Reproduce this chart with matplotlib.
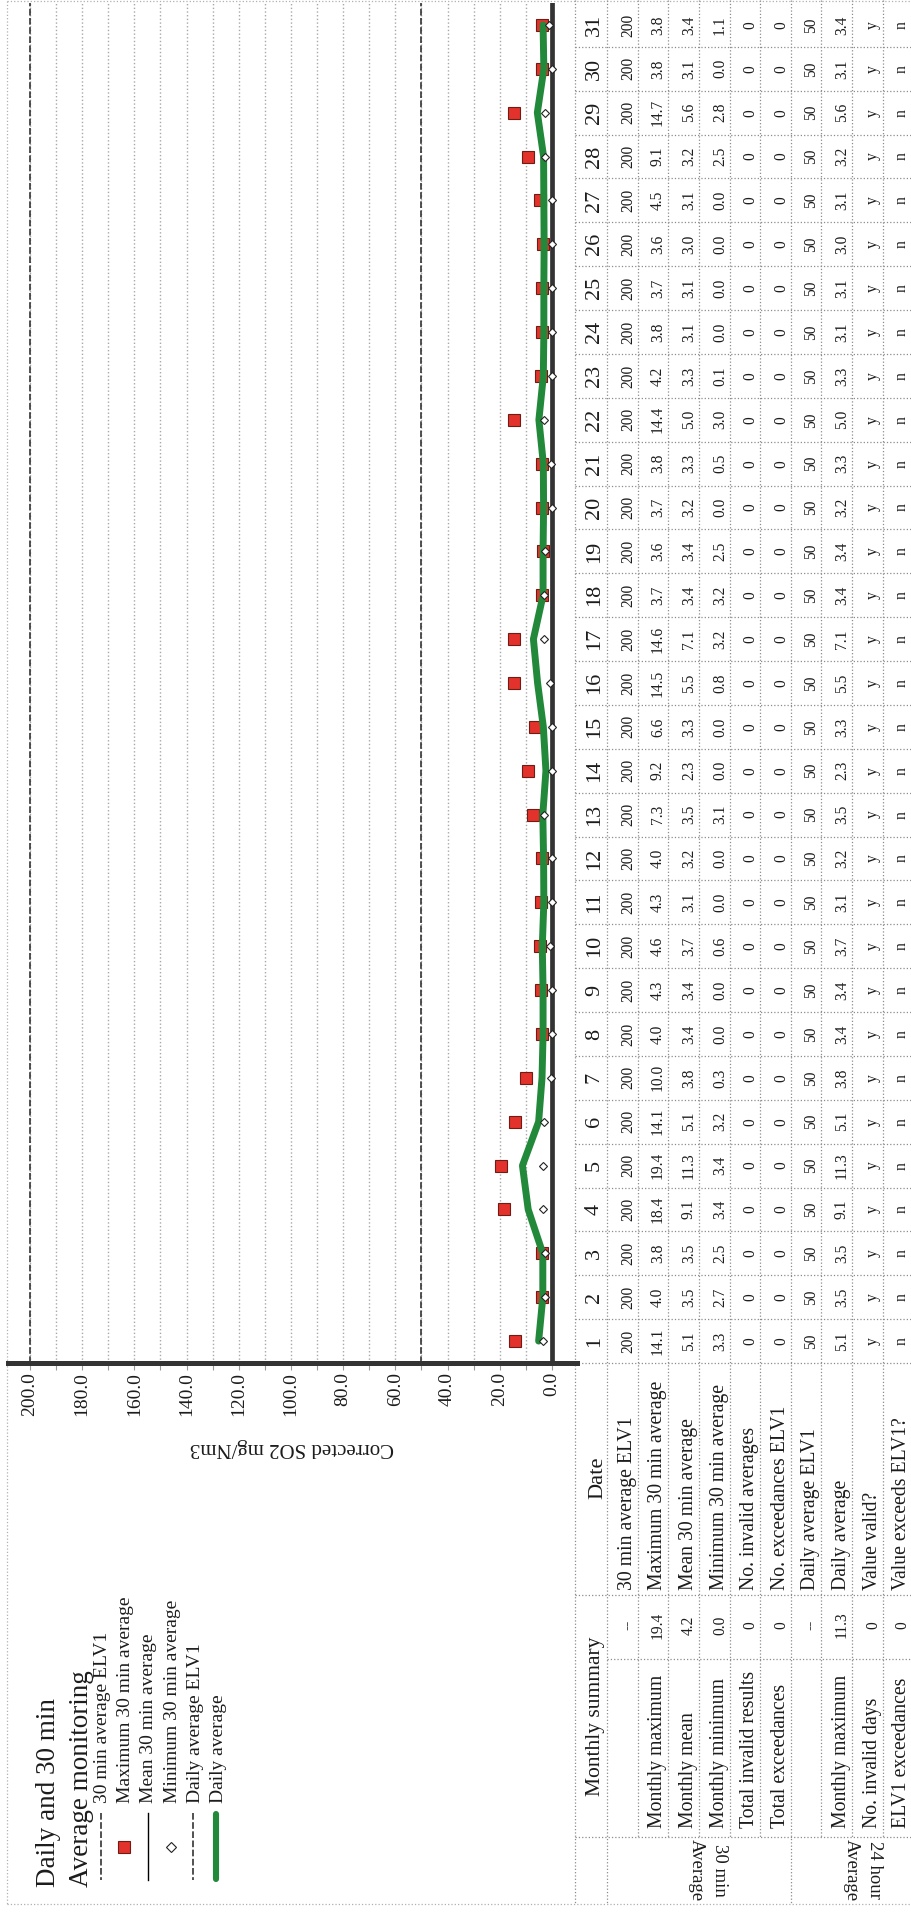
import matplotlib
matplotlib.use("Agg")
import matplotlib.pyplot as plt
from matplotlib.transforms import blended_transform_factory

plt.rcParams['font.family'] = ['Liberation Serif', 'DejaVu Serif']

# daily data for the month
days = list(range(1, 32))
elv_30min = [200] * 31
max_30min = [14.1, 4.0, 3.8, 18.4, 19.4, 14.1, 10.0, 4.0, 4.3, 4.6, 4.3, 4.0, 7.3, 9.2, 6.6,
             14.5, 14.6, 3.7, 3.6, 3.7, 3.8, 14.4, 4.2, 3.8, 3.7, 3.6, 4.5, 9.1, 14.7, 3.8, 3.8]
mean_30min = [5.1, 3.5, 3.5, 9.1, 11.3, 5.1, 3.8, 3.4, 3.4, 3.7, 3.1, 3.2, 3.5, 2.3, 3.3,
              5.5, 7.1, 3.4, 3.4, 3.2, 3.3, 5.0, 3.3, 3.1, 3.1, 3.0, 3.1, 3.2, 5.6, 3.1, 3.4]
min_30min = [3.3, 2.7, 2.5, 3.4, 3.4, 3.2, 0.3, 0.0, 0.0, 0.6, 0.0, 0.0, 3.1, 0.0, 0.0,
             0.8, 3.2, 3.2, 2.5, 0.0, 0.5, 3.0, 0.1, 0.0, 0.0, 0.0, 0.0, 2.5, 2.8, 0.0, 1.1]
n_invalid = [0] * 31
n_exceed = [0] * 31
elv_daily = [50] * 31
daily_avg = [5.1, 3.5, 3.5, 9.1, 11.3, 5.1, 3.8, 3.4, 3.4, 3.7, 3.1, 3.2, 3.5, 2.3, 3.3,
             5.5, 7.1, 3.4, 3.4, 3.2, 3.3, 5.0, 3.3, 3.1, 3.1, 3.0, 3.1, 3.2, 5.6, 3.1, 3.4]
valid = ['y'] * 31
exceeds = ['n'] * 31

row_labels = ['30 min average ELV1', 'Maximum 30 min average', 'Mean 30 min average',
              'Minimum 30 min average', 'No. invalid averages', 'No. exceedances ELV1',
              'Daily average ELV1', 'Daily average', 'Value valid?', 'Value exceeds ELV1?']
summary_labels = ['', 'Monthly maximum', 'Monthly mean', 'Monthly minimum',
                  'Total invalid results', 'Total exceedances', '', 'Monthly maximum',
                  'No. invalid days', 'ELV1 exceedances']
summary_values = ['--', '19.4', '4.2', '0.0', '0', '0', '--', '11.3', '0', '0']
group_labels = [('30 min', 'Average'), ('24 hour', 'Average')]
legend_labels = ['30 min average ELV1', 'Maximum 30 min average', 'Mean 30 min average',
                 'Minimum 30 min average', 'Daily average ELV1', 'Daily average']
value_ticks = list(range(0, 201, 20))

W, H = 912, 1914
GREEN = '#22893a'
RED = '#e3322b'
DARK = '#333333'
TXT = '#1c1c1c'
grid_kw = dict(color='#8c8c8c', lw=0.9, ls=':')

fig = plt.figure(figsize=(W / 100, H / 100), dpi=100)

# overlay in pixel coords for table, legend, titles
ov = fig.add_axes([0, 0, 1, 1])
ov.set_xlim(0, W)
ov.set_ylim(H, 0)
ov.axis('off')


def vtext(xb, y, s, size, ha='left', rot=90, **kw):
    # rotated text, anchored on its baseline
    return ov.text(xb, y, s, rotation=rot, rotation_mode='anchor', ha=ha, va='baseline',
                   fontsize=size, color=TXT, **kw)


# chart (page is rotated: values run right->left, days bottom->top)
ax = fig.add_axes([8 / W, (H - 1363) / H, (577 - 8) / W, (1363 - 3) / H])
ax.patch.set_alpha(0)
ax.set_xlim(208.4, -9.6)
ax.set_ylim(0.5, 31.5)
ax.set_xticks(value_ticks)
ax.set_xticks(range(10, 200, 20), minor=True)
ax.set_xticklabels([f'{v:.1f}' for v in value_ticks], rotation=90, fontsize=14, color=TXT)
ax.set_yticks([])
ax.grid(axis='x', which='both', color='#a8a8a8', linestyle=':', linewidth=1)
for s in ['top', 'left', 'right']:
    ax.spines[s].set_visible(False)
ax.spines['bottom'].set_linewidth(3.6)
ax.spines['bottom'].set_color(DARK)
ax.tick_params(axis='x', which='both', length=5, width=0.8, color='#999999', pad=1.5)

ax.axvline(0, color=DARK, lw=3.4, zorder=2)
ax.axvline(elv_30min[0], color=DARK, lw=1.2, ls=(0, (4, 1.5)), zorder=2)
ax.axvline(elv_daily[0], color=DARK, lw=1.2, ls=(0, (4, 1.5)), zorder=2)
ax.plot(max_30min, days, ls='none', marker='s', ms=8.6, mfc=RED, mec='#6e1c15', mew=0.8, zorder=3)
ax.plot(mean_30min, days, color='black', lw=1, zorder=4)
ax.plot(daily_avg, days, color=GREEN, lw=5, solid_capstyle='round', solid_joinstyle='round', zorder=5)
ax.plot(min_30min, days, ls='none', marker='D', ms=4.3, mfc='white', mec='#222222', mew=0.8, zorder=6)

ov.text(292, 1447, 'Corrected SO2 mg/Nm3', rotation=180, ha='center', va='center',
        fontsize=15, color=TXT)

# title + legend
vtext(55, 1887, 'Daily and 30 min', 19.5)
vtext(88, 1887, 'Average monitoring', 19.5)
leg_x = [101, 124, 148, 171, 193, 216]
ov.plot([leg_x[0]] * 2, [1813, 1880], color=DARK, lw=1.2, ls=(0, (4, 1.5)))
ov.plot(leg_x[1], 1847, marker='s', ms=8.6, mfc=RED, mec='#6e1c15', mew=0.8)
ov.plot([leg_x[2]] * 2, [1813, 1880], color='black', lw=1)
ov.plot(leg_x[3], 1847, marker='D', ms=4.6, mfc='white', mec='#222222', mew=0.8)
ov.plot([leg_x[4]] * 2, [1813, 1880], color=DARK, lw=1.2, ls=(0, (4, 1.5)))
ov.plot([leg_x[5]] * 2, [1814, 1879], color=GREEN, lw=4.4, solid_capstyle='round')
for xb, lab in zip([107, 130, 153, 177, 200, 223], legend_labels):
    vtext(xb, 1803, lab, 14)

# outer page border
ov.plot([7, 7], [1, 1904], color='#b0b0b0', lw=0.9, ls=':')
ov.plot([7, 912], [1904, 1904], color='#b0b0b0', lw=0.9, ls=':')
ov.plot([7, 912], [1, 1], color='#b0b0b0', lw=0.9, ls=':')

# table
tr = blended_transform_factory(ov.transData, ax.transData)
col_edges = [575, 607, 638, 668, 699, 730, 760, 791, 821, 852, 883, 912]
col_base = [e - 6 for e in col_edges[1:]]
col_base[0] = 599

for i, x in enumerate(col_edges):
    bottom = 1904 if i in (0, 1, 7) else 1837
    ov.plot([x, x], [0, bottom], **grid_kw)
for d in range(0, 31):
    ov.plot([575, 912], [d + 0.5, d + 0.5], transform=tr, **grid_kw)
ov.plot([575, 912], [1595, 1595], **grid_kw)
ov.plot([607, 912], [1659, 1659], **grid_kw)
ov.plot([575, 912], [1837, 1837], **grid_kw)

columns = [
    [str(v) for v in elv_30min],
    [f'{v:.1f}' for v in max_30min],
    [f'{v:.1f}' for v in mean_30min],
    [f'{v:.1f}' for v in min_30min],
    [str(v) for v in n_invalid],
    [str(v) for v in n_exceed],
    [str(v) for v in elv_daily],
    [f'{v:.1f}' for v in daily_avg],
    valid,
    exceeds,
]
for k, d in enumerate(days):
    vtext(col_base[0], d, str(d), 16, ha='center', transform=tr)
    for c, col in enumerate(columns):
        vtext(col_base[c + 1], d, col[k], 11.2, ha='center', transform=tr)

vtext(602, 1478, 'Date', 16.2, ha='center')
vtext(600, 1716, 'Monthly summary', 15.5, ha='center')
for c in range(10):
    vtext(col_base[c + 1], 1590, row_labels[c], 14.2)
    vtext(col_base[c + 1], 1625, summary_values[c], 11.2, ha='center')
    if summary_labels[c]:
        vtext(col_base[c + 1], 1828, summary_labels[c], 14.2)

# group labels in the last column read the other way round
for (first, second), xb in zip(group_labels, [(715, 692), (870, 847)]):
    vtext(xb[0], 1870, first, 13.5, ha='center', rot=-90)
    vtext(xb[1], 1870, second, 13.5, ha='center', rot=-90)

fig.savefig('out.png', dpi=100)
